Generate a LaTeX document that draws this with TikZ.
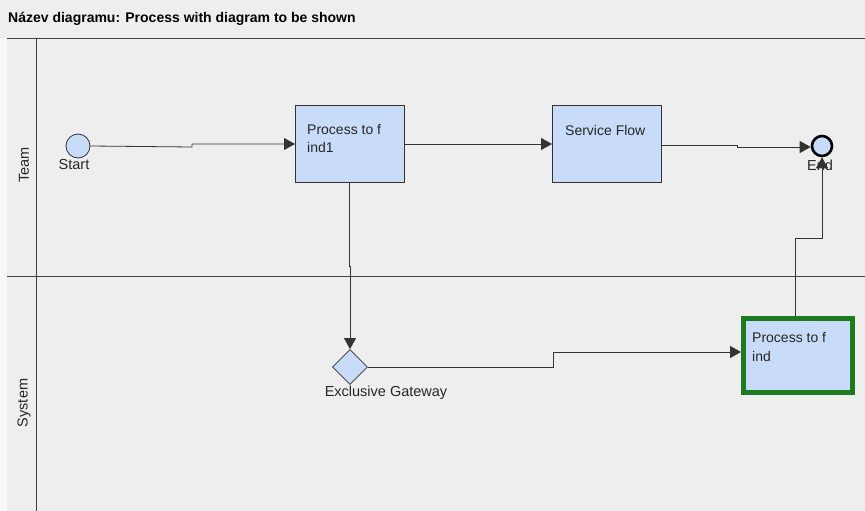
\documentclass[tikz,border=0pt]{standalone}
\usepackage{fontspec}
\setmainfont{Liberation Sans}
\usetikzlibrary{arrows.meta,shapes.geometric}
\definecolor{bg}{HTML}{EEEEEE}
\definecolor{fillb}{HTML}{C8DCFA}
\definecolor{edge}{HTML}{333333}
\definecolor{gr}{HTML}{1E7A1E}
\tikzset{
  x=1pt, y=-1pt,
  task/.style={draw=edge, line width=1pt, fill=fillb, minimum width=109pt, minimum height=77pt, anchor=north west, inner sep=0pt},
  ttext/.style={anchor=west, font=\fontsize{14}{18}\selectfont, align=left, inner sep=0pt, text=black!85},
  flow/.style={draw=black!80, line width=0.8pt},
  arr/.style={flow, -{Triangle[length=11pt,width=12pt]}},
  lbl/.style={font=\fontsize{14.5}{16}\selectfont, inner sep=0pt, text=black!85},
  lane/.style={draw=black!75, line width=0.8pt}
}
\begin{document}
\begin{tikzpicture}
\useasboundingbox (0,0) rectangle (865,511);
\fill[bg] (0,0) rectangle (865,511);
\fill[white!60!bg] (0,38) rectangle (7,511);
% title
\node[anchor=west, inner sep=0pt, font=\bfseries\fontsize{14}{16}\selectfont] (title) at (8,19) {Název diagramu: Process with diagram to be shown};
% lanes
\draw[lane] (7,38) -- (865,38);
\draw[lane] (36,38) -- (36,511);
\draw[lane] (7,276) -- (865,276);
\node[lbl, rotate=90] (team) at (24,165) {Team};
\node[lbl, rotate=90] (system) at (24,403) {System};
% start
\node[circle, draw=edge, line width=0.8pt, fill=fillb, minimum size=24pt, inner sep=0pt] (start) at (78,146) {};
\node[lbl] (startl) at (74,165) {Start};
% tasks
\node[task] (p1) at (295,105) {};
\node[ttext] (p1t) at (307,139) {Process to f\\ind1};
\node[task] (sf) at (552,105) {};
\node[ttext] (sft) at (565,130) {Service Flow};
\node[task, draw=gr, line width=4.5pt, minimum width=109pt, minimum height=74pt] (p2) at (741,316) {};
\node[ttext] (p2t) at (752,347) {Process to f\\ind};
% end
\node[circle, draw=black, line width=2.6pt, fill=fillb, minimum size=20pt, inner sep=0pt] (end) at (822,146) {};
\node[lbl] (endl) at (820,165) {End};
% gateway
\node[diamond, draw=edge, line width=0.8pt, fill=fillb, minimum width=35pt, minimum height=35pt, inner sep=0pt] (gw) at (350,367) {};
\node[lbl] (gwl) at (386,393) {Exclusive Gateway};
% flows
\draw[arr] (start.east) -- (192,147) -- (192,144) -- (p1.west |- 0,144);
\draw[arr] (p1.east |- 0,144) -- (sf.west |- 0,144);
\draw[arr] (sf.east |- 0,145) -- (737,145) -- (737,147) -- (end.west |- 0,147);
\draw[arr] (p1.south -| 349,0) -- (349,266) -- (350,266) -- (gw.north);
\draw[arr] (gw.east) -- (553,367) -- (553,352) -- (p2.west |- 0,352);
\draw[arr] (p2.north -| 795,0) -- (795,238) -- (822,238) -- (end.south);
\end{tikzpicture}
\end{document}
